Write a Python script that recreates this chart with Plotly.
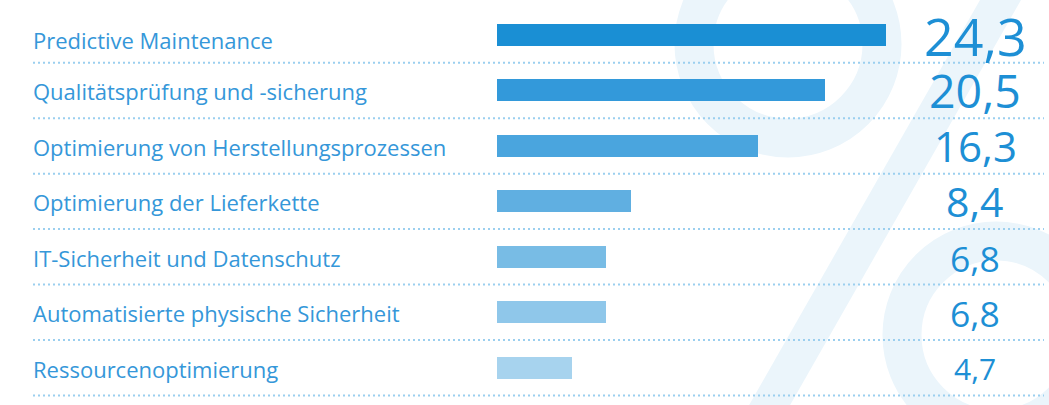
import plotly.graph_objects as go

W, H = 1049, 405

categories = [
    "Predictive Maintenance",
    "Qualitätsprüfung und -sicherung",
    "Optimierung von Herstellungsprozessen",
    "Optimierung der Lieferkette",
    "IT-Sicherheit und Datenschutz",
    "Automatisierte physische Sicherheit",
    "Ressourcenoptimierung",
]
values = [24.3, 20.5, 16.3, 8.4, 6.8, 6.8, 4.7]
value_labels = ["24,3", "20,5", "16,3", "8,4", "6,8", "6,8", "4,7"]

# styles
bar_colors = ["#1a8fd4", "#3399da", "#4aa5de", "#60afe1", "#78bce5", "#8fc7ea", "#a7d3ee"]
value_sizes = [52, 46.5, 42, 41, 35.5, 35.5, 30]
value_yshifts = [0, 0, 0, 0, -1, -1, -1]
label_color = "#3597d9"
value_color = "#1d8fd5"
bg_color = "#ebf5fb"
dot_color = "#9bcfef"
FONT = "Open Sans"

# pixel -> paper helpers for decorative background
def px(x):
    return x / W

def py(y):
    return 1 - y / H

n = len(categories)
pos = list(range(n))

fig = go.Figure()
fig.add_trace(go.Bar(
    x=values, y=pos, orientation="h",
    marker=dict(color=bar_colors, line=dict(width=0)),
    width=0.397, hoverinfo="skip",
))

shapes = []
# big "%" background
for cx, cy in [(788, 44), (996, 335)]:
    r = 94
    shapes.append(dict(type="circle", xref="paper", yref="paper",
                       x0=px(cx - r), x1=px(cx + r), y0=py(cy + r), y1=py(cy - r),
                       line=dict(color=bg_color, width=39), fillcolor="rgba(0,0,0,0)",
                       layer="below"))
slope = 0.57
y_top, y_bot = -10, 415
xl_top = 980 + slope * 10
xr_top = 1021 + slope * 10
xl_bot = 980 - slope * y_bot
xr_bot = 1021 - slope * y_bot
path = (f"M {px(xl_top)} {py(y_top)} L {px(xr_top)} {py(y_top)} "
        f"L {px(xr_bot)} {py(y_bot)} L {px(xl_bot)} {py(y_bot)} Z")
shapes.append(dict(type="path", xref="paper", yref="paper", path=path,
                   fillcolor=bg_color, line=dict(width=0), layer="below"))

# dotted separators between rows
for i in pos:
    shapes.append(dict(type="line", xref="paper", yref="y",
                       x0=px(33), x1=px(1044), y0=i + 0.5, y1=i + 0.5,
                       line=dict(color=dot_color, width=2, dash="2px,3px"),
                       layer="above"))

annotations = []
for i, (cat, vl, fs, ys) in enumerate(zip(categories, value_labels, value_sizes, value_yshifts)):
    annotations.append(dict(xref="paper", yref="y", x=px(30.5), y=i, text=cat,
                            xanchor="left", yanchor="middle", showarrow=False,
                            yshift=-5 if i == 0 else -1,
                            font=dict(family=FONT, size=22, color=label_color)))
    annotations.append(dict(xref="paper", yref="y", x=px(975), y=i, text=vl,
                            xanchor="center", yanchor="middle", showarrow=False,
                            yshift=ys,
                            font=dict(family=FONT, size=fs, color=value_color)))

top = -35 / 55.45
bottom = top + H / 55.45
fig.update_layout(
    width=W, height=H,
    margin=dict(l=0, r=0, t=0, b=0),
    paper_bgcolor="white", plot_bgcolor="rgba(0,0,0,0)",
    showlegend=False,
    xaxis=dict(range=[-497 / 16, (W - 497) / 16], visible=False, fixedrange=True),
    yaxis=dict(range=[bottom, top], visible=False, fixedrange=True),
    shapes=shapes, annotations=annotations,
    bargap=0,
)

fig.write_html("out.html", config={"displayModeBar": False})
